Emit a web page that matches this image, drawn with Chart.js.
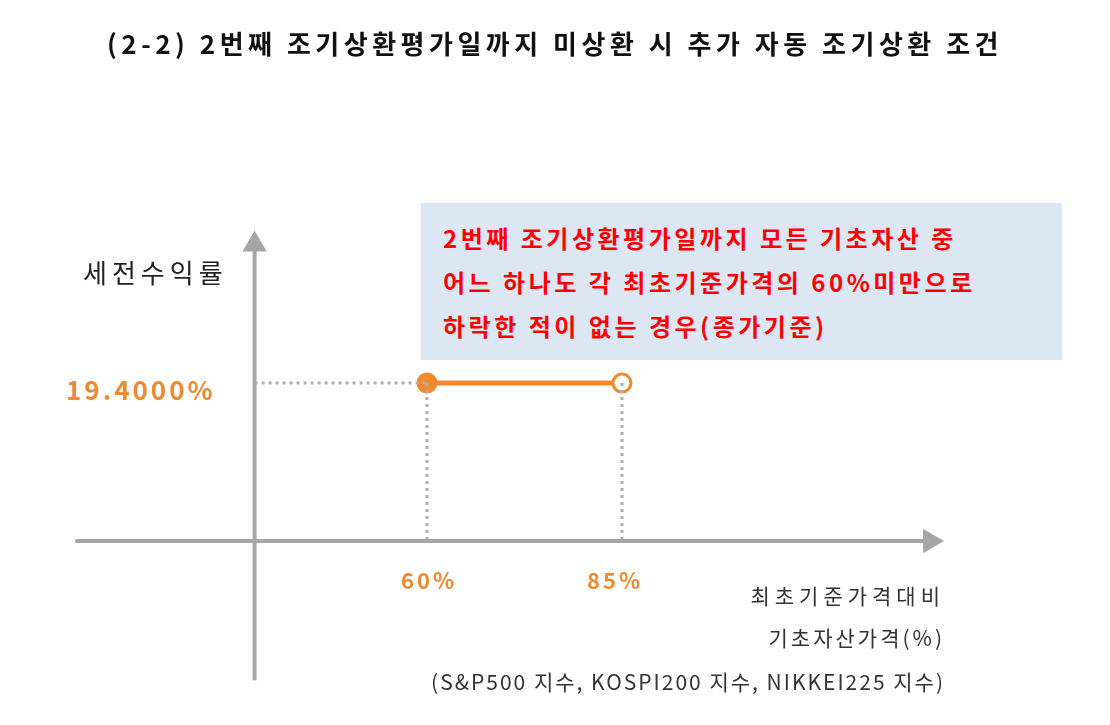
<!DOCTYPE html>
<html>
<head>
<meta charset="utf-8">
<script src="https://cdn.jsdelivr.net/npm/chart.js@4/dist/chart.umd.min.js"></script>
<style>
  body { margin: 0; background: #fff; font-family: "Noto Sans CJK KR", "Noto Sans", sans-serif; }
  #wrap { position: relative; width: 1110px; height: 725px; }
  canvas { position: absolute; left: 0; top: 0; }
  .t { position: absolute; white-space: nowrap; }
  #title { left: 0; width: 1110px; top: 24px; text-align: center; font-size: 26px; font-weight: bold; color: #111; letter-spacing: 4.5px; }
  #box { left: 421px; top: 203px; width: 641px; height: 157px; background: #dde7f3; }
  #boxText { left: 443px; top: 216px; font-size: 24px; font-weight: bold; color: #ff0000; line-height: 44px; letter-spacing: 3.5px; }
  #ylab { left: 83px; top: 253px; font-size: 26px; color: #222; letter-spacing: 5px; }
  #yval { left: 66px; top: 370px; font-size: 26px; font-weight: bold; color: #f08a2e; letter-spacing: 3px; }
  .xv { top: 563px; font-size: 22px; font-weight: bold; color: #f08a2e; letter-spacing: 3px; }
  .note { right: 165px; font-size: 21px; color: #333; text-align: right; }
</style>
</head>
<body>
<div id="wrap">
  <canvas id="c" width="1110" height="725"></canvas>
  <div class="t" id="title">(2-2) 2번째 조기상환평가일까지 미상환 시 추가 자동 조기상환 조건</div>
  <div class="t" id="box"></div>
  <div class="t" id="boxText">2번째 조기상환평가일까지 모든 기초자산 중<br>어느 하나도 각 최초기준가격의 60%미만으로<br>하락한 적이 없는 경우(종가기준)</div>
  <div class="t" id="ylab">세전수익률</div>
  <div class="t" id="yval">19.4000%</div>
  <div class="t xv" style="left:401px">60%</div>
  <div class="t xv" style="left:587px">85%</div>
  <div class="t note" style="top:580px; letter-spacing:5px">최초기준가격대비</div>
  <div class="t note" style="top:622px; letter-spacing:3px">기초자산가격(%)</div>
  <div class="t note" style="top:666px; letter-spacing:2px">(S&amp;P500 지수, KOSPI200 지수, NIKKEI225 지수)</div>
</div>
<script>
const barrierLow = 60;
const barrierHigh = 85;
const couponRate = 19.4;
const xAxisRange = [14.9, 124.5];
const yAxisRange = [-17.1, 36.4];
const originX = 37.9;

const orange = '#f08a2e';
const gray = '#a6a6a6';
const dotted = '#b0b0b0';

new Chart(document.getElementById('c'), {
  type: 'scatter',
  data: {
    datasets: [
      { data: [{x: xAxisRange[0], y: 0}, {x: xAxisRange[1], y: 0}], showLine: true,
        borderColor: gray, borderWidth: 4, pointRadius: [0, 10], pointStyle: 'triangle',
        rotation: 90, pointBackgroundColor: gray, pointBorderColor: gray },
      { data: [{x: originX, y: yAxisRange[0]}, {x: originX, y: yAxisRange[1]}], showLine: true,
        borderColor: gray, borderWidth: 4, pointRadius: [0, 10], pointStyle: 'triangle',
        pointBackgroundColor: gray, pointBorderColor: gray },
      { data: [{x: originX, y: couponRate}, {x: barrierLow, y: couponRate}], showLine: true,
        borderColor: dotted, borderWidth: 3, borderDash: [3, 4], pointRadius: 0 },
      { data: [{x: barrierLow, y: couponRate}, {x: barrierLow, y: 0}], showLine: true,
        borderColor: dotted, borderWidth: 3, borderDash: [3, 4], pointRadius: 0 },
      { data: [{x: barrierHigh, y: couponRate}, {x: barrierHigh, y: 0}], showLine: true,
        borderColor: dotted, borderWidth: 3, borderDash: [3, 4], pointRadius: 0 },
      { data: [{x: barrierLow, y: couponRate}, {x: barrierHigh, y: couponRate}], showLine: true,
        borderColor: orange, borderWidth: 5, pointRadius: 9, borderCapStyle: 'butt',
        pointBackgroundColor: [orange, '#ffffff'], pointBorderColor: orange, pointBorderWidth: 3 }
    ]
  },
  options: {
    responsive: false,
    animation: false,
    layout: { padding: 0, autoPadding: false },
    plugins: { legend: { display: false }, tooltip: { enabled: false } },
    scales: {
      x: { type: 'linear', display: false, min: 5.26, max: 147.57 },
      y: { type: 'linear', display: false, min: -22.59, max: 66.43 }
    }
  }
});
</script>
</body>
</html>
